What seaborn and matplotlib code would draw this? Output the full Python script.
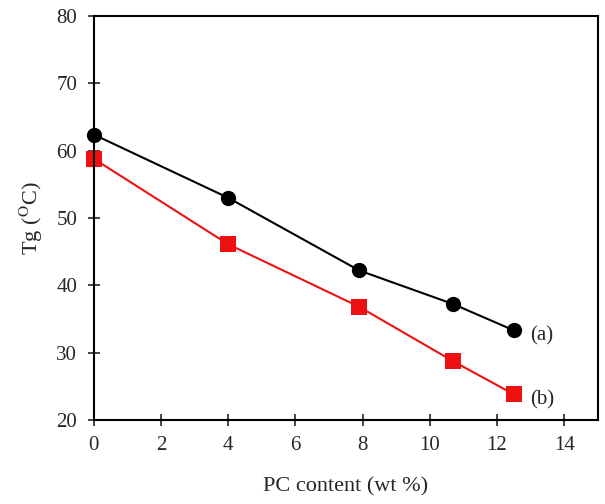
import matplotlib
matplotlib.use("Agg")
import matplotlib.pyplot as plt
import seaborn as sns
import pandas as pd

# PC content (wt %) and glass transition temperatures
pc_content = [0, 4, 7.9, 10.7, 12.5]
tg_a = [62.4, 53.0, 42.2, 37.2, 33.3]
tg_b = [58.8, 46.1, 36.8, 28.7, 23.8]
series_labels = ["(a)", "(b)"]

df = pd.DataFrame({
    "pc": pc_content * 2,
    "tg": tg_a + tg_b,
    "series": [series_labels[0]] * len(pc_content) + [series_labels[1]] * len(pc_content),
})

sns.set_style("ticks")
plt.rcParams["font.family"] = ["Liberation Serif", "DejaVu Serif"]
plt.rcParams["mathtext.fontset"] = "stix"

fig = plt.figure(figsize=(6.05, 5.04), dpi=100)
ax = fig.add_axes([0.155, 0.167, 0.833, 0.801])

sns.lineplot(data=df, x="pc", y="tg", hue="series", style="series",
             palette={"(a)": "black", "(b)": "#ee1111"},
             markers={"(a)": "o", "(b)": "s"}, dashes=False,
             markersize=11, markeredgewidth=0, linewidth=1.5,
             legend=False, ax=ax)
for ln in ax.lines:
    ln.set_clip_on(False)

# end labels
for lab, vals in zip(series_labels, [tg_a, tg_b]):
    ax.text(pc_content[-1] + 0.5, vals[-1] - 0.8, lab, fontsize=15,
            va="center", ha="left")

ax.set_xlim(0, 15)
ax.set_ylim(20, 80)
ax.set_xticks(range(0, 15, 2))
ax.set_yticks(range(20, 81, 10))
ax.tick_params(direction="inout", length=8, width=1.2, labelsize=15, pad=8)
for s in ax.spines.values():
    s.set_linewidth(1.5)
    s.set_color("black")

ax.set_xlabel("PC content (wt %)", fontsize=16, labelpad=16)
ax.set_ylabel(r"Tg ($^{\mathrm{O}}$C)", fontsize=16, labelpad=8)

fig.savefig("out.png", dpi=100)
